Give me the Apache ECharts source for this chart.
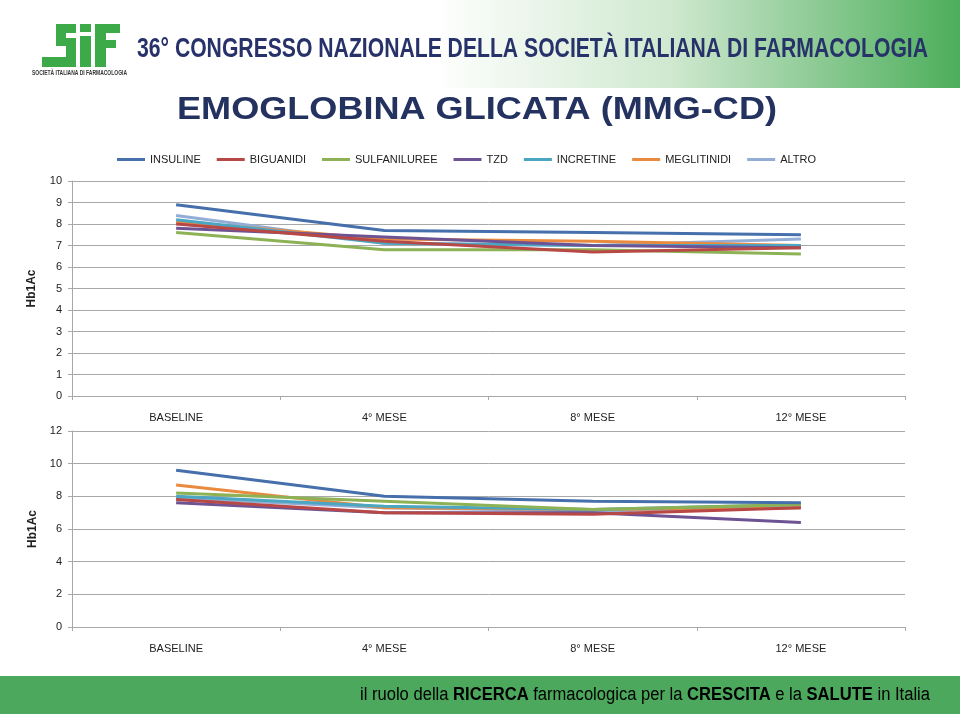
<!DOCTYPE html>
<html><head><meta charset="utf-8">
<script src="https://cdn.jsdelivr.net/npm/echarts@6/dist/echarts.min.js"></script>
<style>html,body{margin:0;padding:0;background:#fff}#c{width:960px;height:716px}</style>
</head><body><div id="c"></div>
<script>
const categories = ['BASELINE', '4° MESE', '8° MESE', '12° MESE'];
const seriesNames = ['INSULINE', 'BIGUANIDI', 'SULFANILUREE', 'TZD', 'INCRETINE', 'MEGLITINIDI', 'ALTRO'];
const seriesColors = ['#4670AC', '#B84845', '#8DB255', '#6E5394', '#4BA6C2', '#E98A3E', '#93AED6'];
// Top chart values
const topInsuline = [8.9, 7.7, 7.6, 7.5];
const topBiguanidi = [8.0, 7.2, 6.7, 6.9];
const topSulfaniluree = [7.6, 6.8, 6.8, 6.6];
const topTzd = [7.8, 7.4, 7.0, 6.9];
const topIncretine = [8.2, 7.1, 7.0, 7.0];
const topMeglitinidi = [8.1, 7.3, 7.2, 7.0];
const topAltro = [8.4, 7.1, 7.0, 7.3];
// Bottom chart values
const botInsuline = [9.6, 8.0, 7.7, 7.6];
const botBiguanidi = [7.8, 7.0, 6.9, 7.3];
const botSulfaniluree = [8.2, 7.7, 7.2, 7.5];
const botTzd = [7.6, 7.0, 7.0, 6.4];
const botIncretine = [8.0, 7.4, 7.2, 7.5];
const botMeglitinidi = [8.7, 7.3, 7.2, 7.3];
const botAltro = [7.9, 7.3, 7.1, 7.3];
const topTicks = {min: 0, max: 10, interval: 1};
const botTicks = {min: 0, max: 12, interval: 2};
const yName = 'Hb1Ac';
const headerText = '36° CONGRESSO NAZIONALE DELLA SOCIETÀ ITALIANA DI FARMACOLOGIA';
const chartTitle = 'EMOGLOBINA GLICATA (MMG-CD)';
const logoSub = 'SOCIETÀ ITALIANA DI FARMACOLOGIA';

const topData = [topInsuline, topBiguanidi, topSulfaniluree, topTzd, topIncretine, topMeglitinidi, topAltro];
const botData = [botInsuline, botBiguanidi, botSulfaniluree, botTzd, botIncretine, botMeglitinidi, botAltro];

const mctx = document.createElement('canvas').getContext('2d');
function measure(text, font) { mctx.font = font; return mctx.measureText(text).width; }

const FF = 'Arial, "Liberation Sans", sans-serif';
const headerFont = 'bold 27px ' + FF;
const headerScale = 791 / measure(headerText, headerFont);
const titleFont = 'bold 31px ' + FF;
const titleScale = 600 / measure(chartTitle, titleFont);
const subFont = 'bold 7px ' + FF;
const subScale = 95 / measure(logoSub, subFont);

const footParts = [['il ruolo della ', 'n'], ['RICERCA', 'b'], [' farmacologica per la ', 'n'], ['CRESCITA', 'b'], [' e la ', 'n'], ['SALUTE', 'b'], [' in Italia', 'n']];
let footW = 0;
footParts.forEach(p => { footW += measure(p[0], (p[1] === 'b' ? 'bold ' : '') + '18px ' + FF); });
const footScale = 570 / footW;
const footText = footParts.map(p => '{' + p[1] + '|' + p[0] + '}').join('');

const gridLine = '#A8A8A8';
function xAxis(gi) {
  return {
    type: 'category', gridIndex: gi, data: categories, boundaryGap: true,
    axisLine: {lineStyle: {color: gridLine, width: 1}},
    axisTick: {show: true, length: 4, lineStyle: {color: gridLine}},
    axisLabel: {color: '#222', fontSize: 11, fontFamily: FF, margin: 16}
  };
}
function yAxis(gi, t, gap) {
  return Object.assign({
    type: 'value', gridIndex: gi,
    name: yName, nameLocation: 'middle', nameGap: gap, nameRotate: 90,
    nameTextStyle: {fontWeight: 'bold', fontSize: 12, color: '#222', fontFamily: FF},
    axisLine: {show: true, lineStyle: {color: gridLine}},
    axisTick: {show: true, length: 4, lineStyle: {color: gridLine}},
    axisLabel: {color: '#222', fontSize: 11, fontFamily: FF, margin: 10},
    splitLine: {lineStyle: {color: gridLine, width: 1}}
  }, t);
}

const series = [];
seriesNames.forEach((n, i) => {
  series.push({name: n, type: 'line', xAxisIndex: 0, yAxisIndex: 0, data: topData[i], showSymbol: false, symbol: 'none',
    lineStyle: {width: 3, color: seriesColors[i]}, itemStyle: {color: seriesColors[i]}, z: 10 - i});
});
seriesNames.forEach((n, i) => {
  series.push({name: n, type: 'line', xAxisIndex: 1, yAxisIndex: 1, data: botData[i], showSymbol: false, symbol: 'none',
    lineStyle: {width: 3, color: seriesColors[i]}, itemStyle: {color: seriesColors[i]}, z: 10 - i});
});

const green = '#3DAA4A';
const option = {
  animation: false,
  backgroundColor: '#fff',
  color: seriesColors,
  legend: {
    data: seriesNames, left: 112, top: 149, icon: 'rect', itemWidth: 28, itemHeight: 3, itemGap: 16,
    textStyle: {fontSize: 11, color: '#222', fontFamily: FF}
  },
  grid: [
    {left: 72, right: 55, top: 181, height: 215},
    {left: 72, right: 55, top: 431, height: 196}
  ],
  xAxis: [xAxis(0), xAxis(1)],
  yAxis: [yAxis(0, topTicks, 34), yAxis(1, botTicks, 32)],
  series: series,
  graphic: [
    {type: 'rect', shape: {x: 0, y: 0, width: 960, height: 88}, z: -10,
      style: {fill: {type: 'linear', x: 0, y: 0, x2: 1, y2: 0, colorStops: [
        {offset: 0, color: '#ffffff'}, {offset: 0.45, color: '#ffffff'}, {offset: 0.7, color: '#cfe8cf'}, {offset: 1, color: '#4CAE5B'}]}}},
    // logo blocks
    {type: 'group', children: [
      {type: 'rect', shape: {x: 56, y: 24, width: 20, height: 9}, style: {fill: green}},
      {type: 'rect', shape: {x: 56, y: 24, width: 10, height: 22}, style: {fill: green}},
      {type: 'rect', shape: {x: 56, y: 38, width: 20, height: 8}, style: {fill: green}},
      {type: 'rect', shape: {x: 66, y: 38, width: 10, height: 29}, style: {fill: green}},
      {type: 'rect', shape: {x: 42, y: 57, width: 34, height: 10}, style: {fill: green}},
      {type: 'rect', shape: {x: 80, y: 24, width: 11, height: 8}, style: {fill: green}},
      {type: 'rect', shape: {x: 80, y: 36, width: 11, height: 31}, style: {fill: green}},
      {type: 'rect', shape: {x: 95, y: 24, width: 25, height: 9}, style: {fill: green}},
      {type: 'rect', shape: {x: 95, y: 24, width: 11, height: 43}, style: {fill: green}},
      {type: 'rect', shape: {x: 95, y: 40, width: 21, height: 8}, style: {fill: green}}
    ]},
    {type: 'text', x: 32, y: 73, scaleX: subScale, style: {text: logoSub, x: 0, y: 0, font: subFont, fill: '#333', verticalAlign: 'middle'}},
    {type: 'text', x: 137, y: 50, scaleX: headerScale, style: {text: headerText, x: 0, y: 0, font: headerFont, fill: '#27326A', verticalAlign: 'middle'}},
    {type: 'text', x: 177, y: 110, scaleX: titleScale, style: {text: chartTitle, x: 0, y: 0, font: titleFont, fill: '#24325F', verticalAlign: 'middle'}},
    {type: 'rect', shape: {x: 0, y: 676, width: 960, height: 38}, style: {fill: '#4CA85C'}, z: -5},
    {type: 'text', x: 360, y: 695, scaleX: footScale, style: {text: footText, x: 0, y: 0, verticalAlign: 'middle',
      rich: {n: {fontSize: 18, fontFamily: FF, color: '#fff'}, b: {fontSize: 18, fontWeight: 'bold', fontFamily: FF, color: '#fff'}}}}
  ]
};
const chart = echarts.init(document.getElementById('c'), null, {renderer: 'canvas'});
chart.setOption(option);
</script>
</body></html>
